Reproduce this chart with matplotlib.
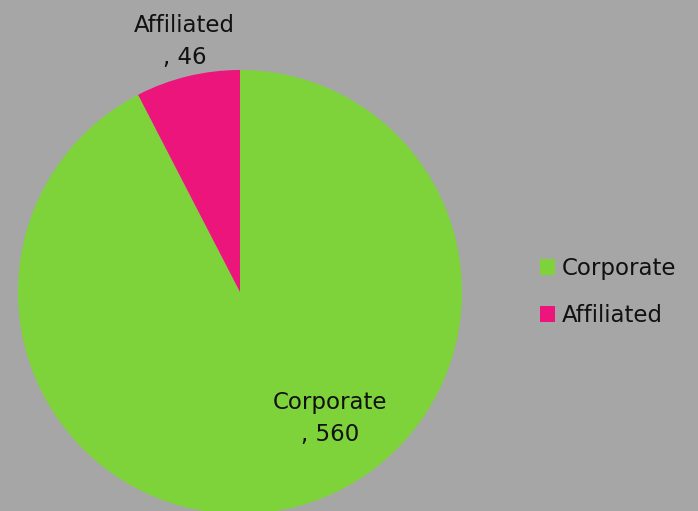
import matplotlib.pyplot as plt
from matplotlib.patches import Patch

# Data
labels = ['Corporate', 'Affiliated']
values = [560, 46]
colors = ['#7ED33B', '#EB157C']
bg = '#A6A6A6'

fig = plt.figure(figsize=(6.98, 5.11), dpi=100, facecolor=bg)
# pie centre around (240, 292) px, radius ~222 px
ax = fig.add_axes([18 / 698, (511 - 292 - 222) / 511, 444 / 698, 444 / 511])
ax.set_facecolor(bg)

wedges, _ = ax.pie(values, colors=colors, startangle=90, counterclock=False,
                   radius=1.0, wedgeprops=dict(linewidth=0))
for w in wedges:
    w.set_clip_on(False)
ax.set_xlim(-1, 1)
ax.set_ylim(-1, 1)
ax.set_aspect('equal')
ax.axis('off')

# data labels (Excel style "name\n, value")
label_pos = [(0.405, -0.57), (-0.25, 1.13)]
for lab, val, (x, y) in zip(labels, values, label_pos):
    ax.text(x, y, f'{lab}\n, {val}', ha='center', va='center',
            fontsize=16.5, color='#111111', linespacing=1.5)

handles = [Patch(facecolor=c, edgecolor='none') for c in colors]
fig.legend(handles, labels, loc='center left', bbox_to_anchor=(519 / 698, 1 - 292 / 511),
           frameon=False, fontsize=16.5, handlelength=0.65, handleheight=0.65,
           handletextpad=0.3, labelspacing=1.05, labelcolor='#111111')

fig.savefig('out.png', dpi=100, facecolor=bg)
